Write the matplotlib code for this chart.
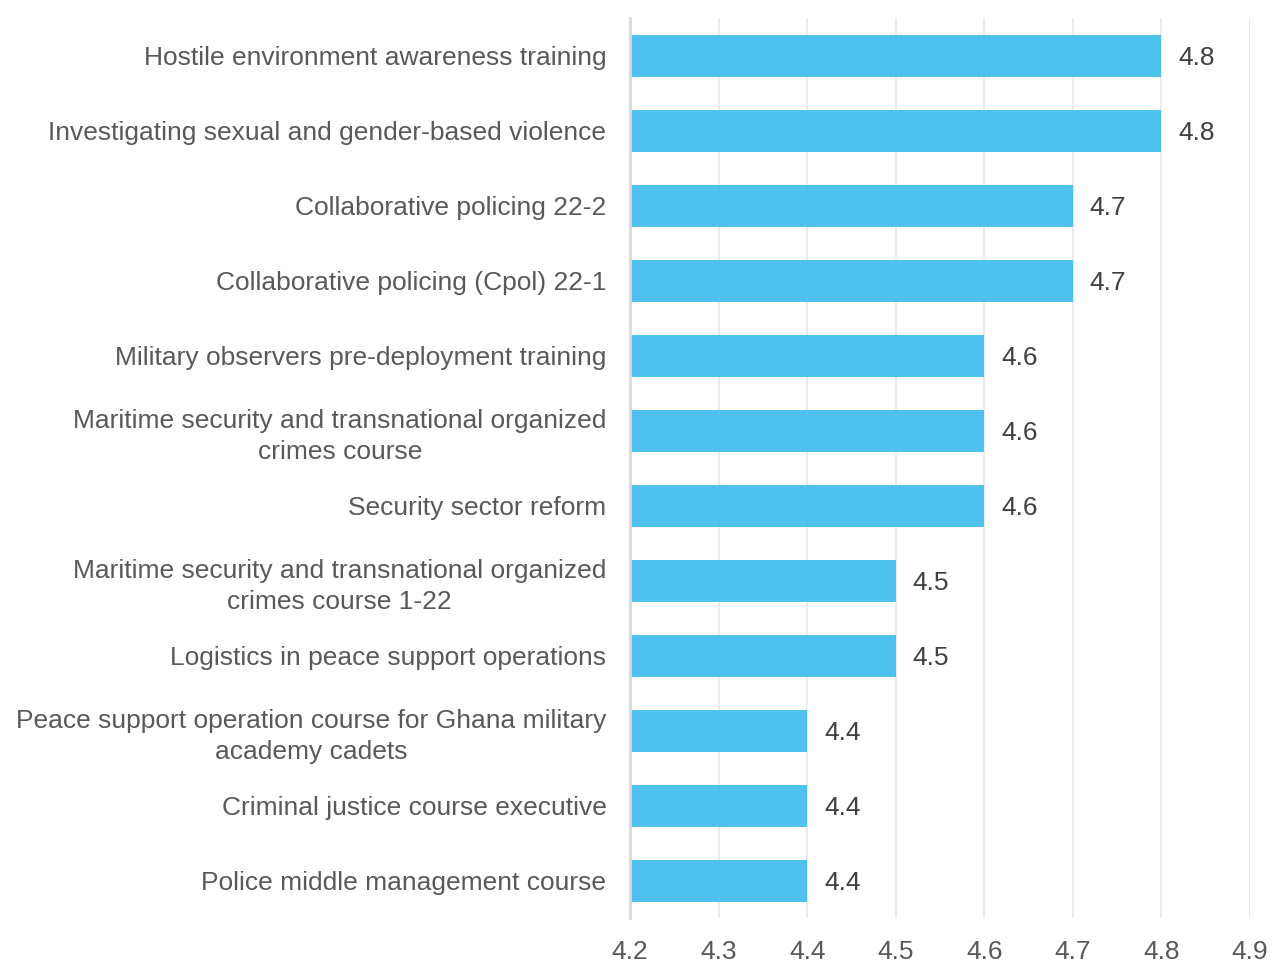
import matplotlib.pyplot as plt

plt.rcParams['font.family'] = ['Liberation Sans', 'DejaVu Sans']

courses = [
    "Hostile environment awareness training",
    "Investigating sexual and gender-based violence",
    "Collaborative policing 22-2",
    "Collaborative policing (Cpol) 22-1",
    "Military observers pre-deployment training",
    "Maritime security and transnational organized\ncrimes course",
    "Security sector reform",
    "Maritime security and transnational organized\ncrimes course 1-22",
    "Logistics in peace support operations",
    "Peace support operation course for Ghana military\nacademy cadets",
    "Criminal justice course executive",
    "Police middle management course",
]
scores = [4.8, 4.8, 4.7, 4.7, 4.6, 4.6, 4.6, 4.5, 4.5, 4.4, 4.4, 4.4]
xticks = [4.2, 4.3, 4.4, 4.5, 4.6, 4.7, 4.8, 4.9]

fig = plt.figure(figsize=(12.72, 9.63), dpi=100)
ax = fig.add_axes([630/1272, 1 - 918/963, 620/1272, 900/963])

pos = list(range(len(courses)))
ax.barh(pos, [s - 4.2 for s in scores], left=4.2, height=0.56, color='#4FC1EE', zorder=2)

for p, s in zip(pos, scores):
    ax.text(s + 0.019, p, f"{s:.1f}", va='center_baseline', ha='left', fontsize=19, color='#404040')

ax.set_xlim(4.2, 4.9)
ax.set_ylim(len(courses) - 0.5, -0.5)
ax.set_xticks(xticks)
ax.set_xticklabels([f"{t:.1f}" for t in xticks])
ax.set_yticks(pos)
ax.set_yticklabels(courses, multialignment='center', linespacing=1.35)
ax.tick_params(axis='x', length=0, pad=16, labelsize=19, labelcolor='#595959')
ax.tick_params(axis='y', length=0, pad=17, labelsize=19, labelcolor='#595959')
ax.grid(axis='x', color='#EBEBEB', linewidth=1.5, zorder=0)
for s in ['top', 'right', 'bottom']:
    ax.spines[s].set_visible(False)
ax.spines['left'].set_color('#D9D9D9')
ax.spines['left'].set_linewidth(2)
ax.spines['left'].set_zorder(3)

plt.savefig('out.png', dpi=100)
